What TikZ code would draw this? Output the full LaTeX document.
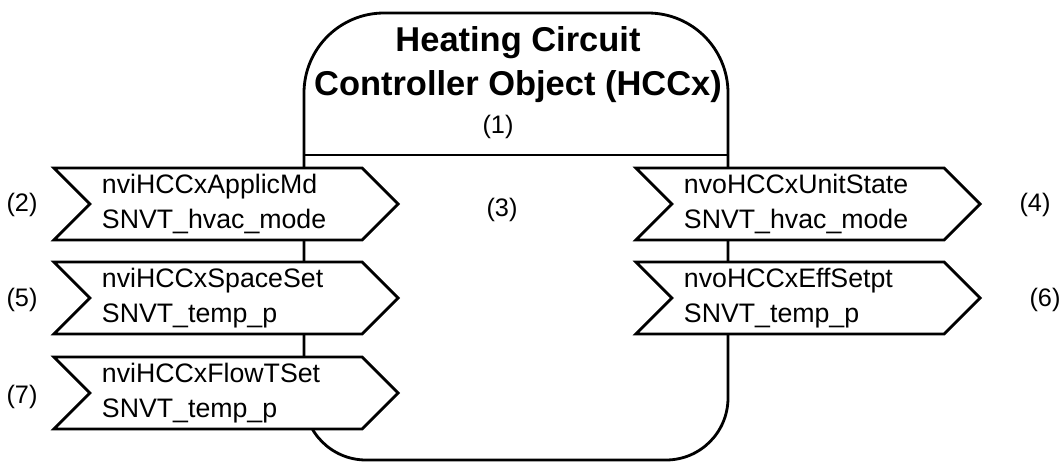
\documentclass[tikz,border=0pt]{standalone}
\usepackage{fontspec}
\setmainfont{Liberation Sans}
\usetikzlibrary{shapes.symbols}

\tikzset{
  objline/.style={line width=2pt},
  nvflag/.style={draw, line width=2pt, fill=white, signal, signal from=west,
    signal to=east, signal pointer angle=90, minimum height=1.8cm,
    text width=6.2cm, inner xsep=0.3cm, inner ysep=0pt, align=left,
    font=\fontsize{19}{24.9}\selectfont},
  numlbl/.style={font=\fontsize{18}{21}\selectfont},
}

\begin{document}
\begin{tikzpicture}[x=0.025cm, y=-0.025cm]
\useasboundingbox (0,0) rectangle (1061,463);
\def\bl{304}
\def\br{728}
\def\bt{13}
\def\bb{460}
\def\bsep{155}

% object box
\draw[objline, rounded corners=2cm] (\bl,300) -- (\bl,\bt) -- (\br,\bt) -- (\br,300);
\draw[objline, rounded corners=1.55cm] (\bl,300) -- (\bl,\bb) -- (\br,\bb) -- (\br,300);
\draw[objline] (\bl,\bsep) -- (\br,\bsep);

% header
\node[align=center, font=\bfseries\fontsize{24.5}{31.2}\selectfont] (title) at (518,65)
  {Heating Circuit\\Controller Object (HCCx)};
\node[numlbl] (lbl1) at (498,127) {(1)};
\node[numlbl] (lbl3) at (502,210) {(3)};

% inputs
\node[nvflag] (nviApplicMd) at (226,204) {nviHCCxApplicMd\\SNVT\_hvac\_mode};
\node[nvflag] (nviSpaceSet) at (226,298) {nviHCCxSpaceSet\\SNVT\_temp\_p};
\node[nvflag] (nviFlowTSet) at (226,393) {nviHCCxFlowTSet\\SNVT\_temp\_p};

% outputs
\node[nvflag] (nvoUnitState) at (808,204) {nvoHCCxUnitState\\SNVT\_hvac\_mode};
\node[nvflag] (nvoEffSetpt) at (808,298) {nvoHCCxEffSetpt\\SNVT\_temp\_p};

% numbers
\node[numlbl] (lbl2) at (22,205) {(2)};
\node[numlbl] (lbl5) at (22,300) {(5)};
\node[numlbl] (lbl7) at (22,397) {(7)};
\node[numlbl] (lbl4) at (1035,205) {(4)};
\node[numlbl] (lbl6) at (1045,300) {(6)};
\end{tikzpicture}
\end{document}
